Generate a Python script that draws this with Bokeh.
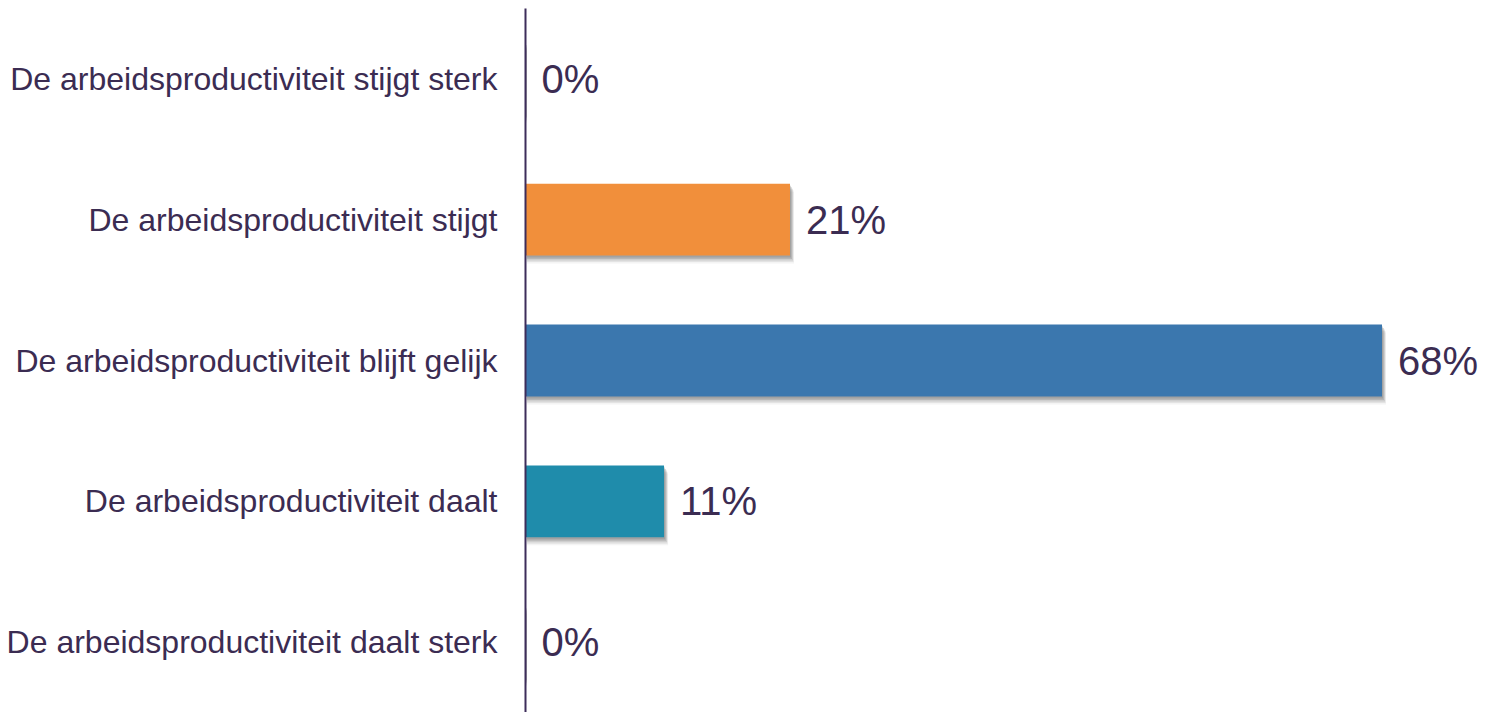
from bokeh.plotting import figure
from bokeh.models import ColumnDataSource, FactorRange, Range1d
from bokeh.transform import dodge
from bokeh.core.properties import value
from bokeh.embed import file_html
from bokeh.resources import INLINE

categories = [
    "De arbeidsproductiviteit stijgt sterk",
    "De arbeidsproductiviteit stijgt",
    "De arbeidsproductiviteit blijft gelijk",
    "De arbeidsproductiviteit daalt",
    "De arbeidsproductiviteit daalt sterk",
]
values = [0, 21, 68, 11, 0]
labels = ["0%", "21%", "68%", "11%", "0%"]
colors = ["#F18F3B", "#F18F3B", "#3B77AE", "#1F8CAB", "#1F8CAB"]

TEXT = "#3B2C52"
FONT = "Liberation Sans"

W, H = 1481, 712
LEFT = 525
TOP = 8
x_end = 75.9
px_x = (W - LEFT) / x_end          # px per percent
px_y = (H - TOP) / len(categories)  # px per category

src = ColumnDataSource(dict(cat=categories, val=values, lab=labels, col=colors))

p = figure(
    width=W, height=H,
    y_range=FactorRange(*reversed(categories), range_padding=0),
    x_range=Range1d(0, x_end),
    output_backend="svg", toolbar_location=None,
    min_border_left=LEFT, min_border_right=0, min_border_top=TOP, min_border_bottom=0,
)
p.outline_line_color = None
p.xgrid.visible = False
p.ygrid.visible = False
p.xaxis.visible = False

# soft drop shadow (derived from the same values)
for dy, dx, a in [(8, 4, 0.08), (6.5, 3.5, 0.12), (5, 3, 0.18), (3.5, 2, 0.24), (2, 1, 0.28)]:
    sh = ColumnDataSource(dict(cat=categories,
                               val=[v + dx / px_x if v > 0 else 0 for v in values]))
    p.hbar(y=dodge("cat", -dy / px_y, range=p.y_range), left=0.1, right="val",
           height=0.51, source=sh, fill_color="#6e6e6e", fill_alpha=a, line_color=None)

p.hbar(y="cat", left=0, right="val", height=0.51, source=src,
       fill_color="col", line_color=None)

p.text(x="val", y="cat", text="lab", source=src, x_offset=16,
       text_font=value(FONT), text_font_size="40px", text_color=TEXT,
       text_baseline="middle", text_align="left")

ax = p.yaxis[0]
ax.axis_line_color = "#3D2D5A"
ax.axis_line_width = 2
ax.major_tick_line_color = None
ax.minor_tick_line_color = None
ax.major_label_standoff = 22
ax.major_label_text_font = FONT
ax.major_label_text_font_size = "32px"
ax.major_label_text_color = TEXT

open("out.html", "w").write(file_html(p, INLINE))
